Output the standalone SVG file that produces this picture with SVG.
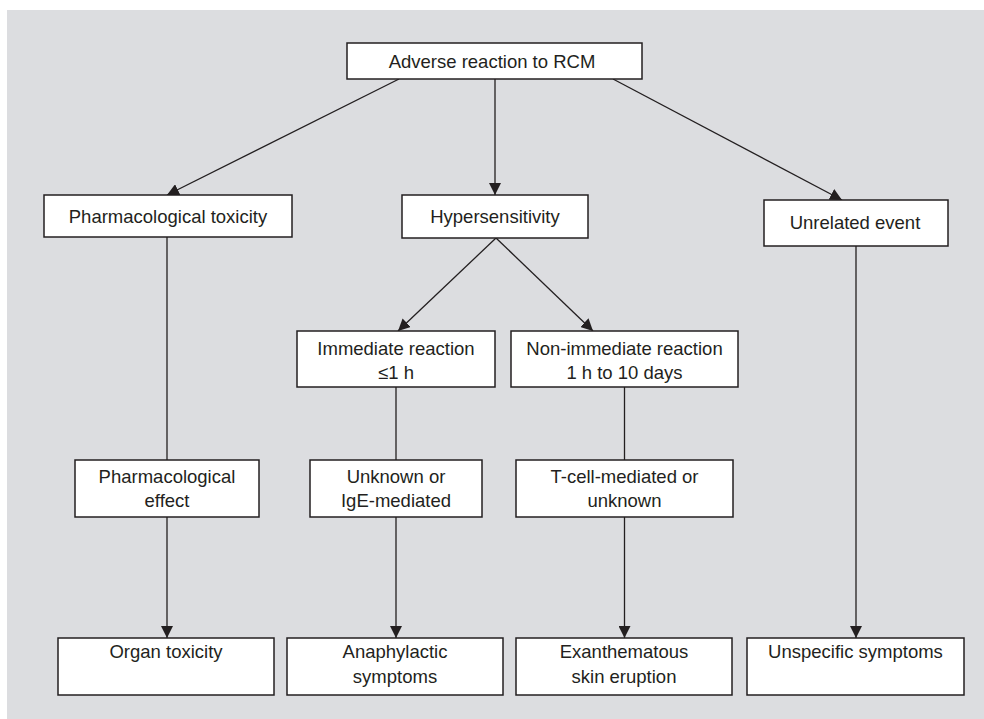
<svg xmlns="http://www.w3.org/2000/svg" width="984" height="719" viewBox="0 0 984 719">
  <style>
    .box { fill: #ffffff; stroke: #231f20; stroke-width: 1.5; }
    .lbl { font-family: "Liberation Sans", Arial, sans-serif; font-size: 18.5px; fill: #231f20; text-anchor: middle; }
    .edge { stroke: #231f20; stroke-width: 1.3; fill: none; }
    .arrow { marker-end: url(#head); }
  </style>
  <defs>
    <marker id="head" markerUnits="userSpaceOnUse" markerWidth="12" markerHeight="12" refX="12" refY="6" orient="auto">
      <path d="M0,0 L12,6 L0,12 z" fill="#231f20"/>
    </marker>
  </defs>

  <!-- panel background -->
  <rect x="7" y="10" width="977" height="709" fill="#dcdde0"/>

  <!-- connectors -->
  <g id="connectors">
    <line class="edge arrow" x1="399" y1="79" x2="167" y2="195"/>
    <line class="edge arrow" x1="495" y1="79" x2="495" y2="195"/>
    <line class="edge arrow" x1="613" y1="79" x2="842" y2="200"/>
    <line class="edge" x1="167" y1="237" x2="167" y2="460"/>
    <line class="edge arrow" x1="167" y1="517" x2="167" y2="638"/>
    <line class="edge arrow" x1="496" y1="238" x2="398" y2="331"/>
    <line class="edge arrow" x1="496" y1="238" x2="593" y2="331"/>
    <line class="edge" x1="396" y1="387" x2="396" y2="460"/>
    <line class="edge arrow" x1="396" y1="517" x2="396" y2="638"/>
    <line class="edge" x1="624.5" y1="387" x2="624.5" y2="460"/>
    <line class="edge arrow" x1="624.5" y1="517" x2="624.5" y2="638"/>
    <line class="edge arrow" x1="856" y1="246" x2="856" y2="638"/>
  </g>

  <!-- nodes -->
  <g id="adverse-reaction">
    <rect class="box" x="347" y="43" width="295" height="36"/>
    <text class="lbl" x="492" y="67.5">Adverse reaction to RCM</text>
  </g>
  <g id="pharmacological-toxicity">
    <rect class="box" x="44" y="195" width="248" height="42"/>
    <text class="lbl" x="168" y="222.5">Pharmacological toxicity</text>
  </g>
  <g id="hypersensitivity">
    <rect class="box" x="402" y="195" width="186" height="43"/>
    <text class="lbl" x="495" y="222.5">Hypersensitivity</text>
  </g>
  <g id="unrelated-event">
    <rect class="box" x="764" y="200" width="184" height="46"/>
    <text class="lbl" x="855" y="229">Unrelated event</text>
  </g>
  <g id="immediate-reaction">
    <rect class="box" x="297" y="331" width="198" height="56"/>
    <text class="lbl" x="396" y="355">Immediate reaction</text>
    <text class="lbl" x="396" y="379">≤1 h</text>
  </g>
  <g id="non-immediate-reaction">
    <rect class="box" x="511" y="331" width="227" height="56"/>
    <text class="lbl" x="624.5" y="355">Non-immediate reaction</text>
    <text class="lbl" x="624.5" y="379">1 h to 10 days</text>
  </g>
  <g id="pharmacological-effect">
    <rect class="box" x="75" y="460" width="184" height="57"/>
    <text class="lbl" x="167" y="482.5">Pharmacological</text>
    <text class="lbl" x="167" y="507">effect</text>
  </g>
  <g id="ige-mediated">
    <rect class="box" x="310" y="460" width="172" height="57"/>
    <text class="lbl" x="396" y="482.5">Unknown or</text>
    <text class="lbl" x="396" y="507">IgE-mediated</text>
  </g>
  <g id="t-cell-mediated">
    <rect class="box" x="516" y="460" width="217" height="57"/>
    <text class="lbl" x="624.5" y="482.5">T-cell-mediated or</text>
    <text class="lbl" x="624.5" y="507">unknown</text>
  </g>
  <g id="organ-toxicity">
    <rect class="box" x="58" y="638" width="216" height="57"/>
    <text class="lbl" x="166" y="657.5">Organ toxicity</text>
  </g>
  <g id="anaphylactic-symptoms">
    <rect class="box" x="287" y="638" width="216" height="57"/>
    <text class="lbl" x="395" y="657.5">Anaphylactic</text>
    <text class="lbl" x="395" y="683">symptoms</text>
  </g>
  <g id="skin-eruption">
    <rect class="box" x="516" y="638" width="216" height="57"/>
    <text class="lbl" x="624" y="657.5">Exanthematous</text>
    <text class="lbl" x="624" y="683">skin eruption</text>
  </g>
  <g id="unspecific-symptoms">
    <rect class="box" x="747" y="638" width="217" height="57"/>
    <text class="lbl" x="855.5" y="657.5">Unspecific symptoms</text>
  </g>
</svg>
